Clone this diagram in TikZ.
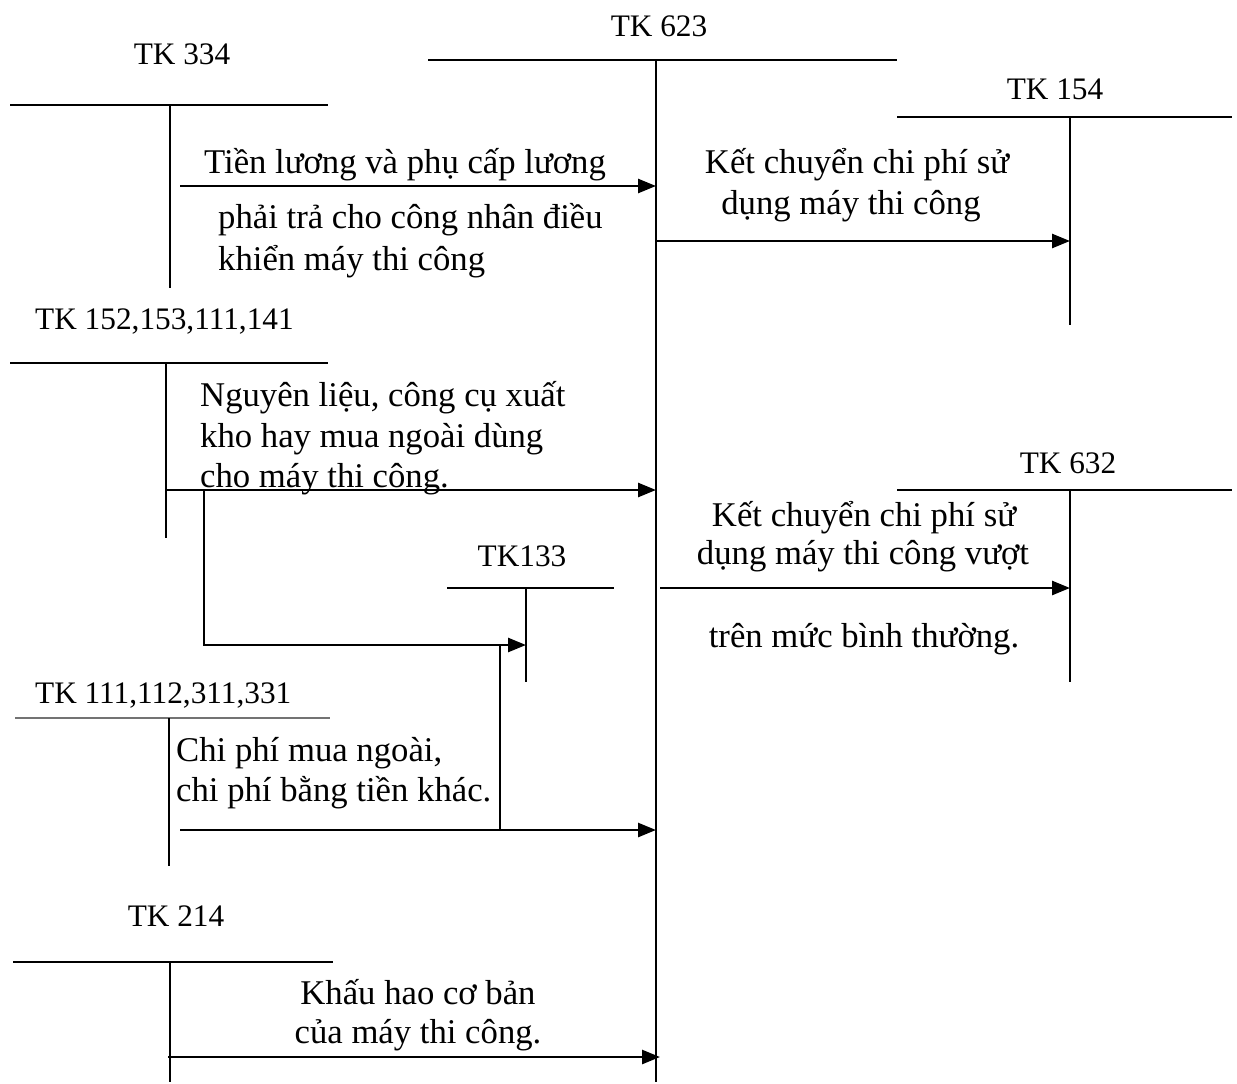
\documentclass[tikz,border=0pt]{standalone}
\usepackage{fontspec}
\setmainfont{Liberation Serif}
\usetikzlibrary{arrows.meta}
\begin{document}
\begin{tikzpicture}[x=1pt,y=-1pt,
  tline/.style={line width=2.4pt},
  flow/.style={line width=2.6pt,-{Triangle[length=18pt,width=14pt]}},
  plain/.style={line width=2.4pt},
  acct/.style={font=\fontsize{31.3}{37}\selectfont,inner sep=0pt,anchor=base},
  txt/.style={font=\fontsize{34.7}{41}\selectfont,inner sep=0pt,anchor=base},
  txtl/.style={txt,anchor=base west}]
\useasboundingbox (0,0) rectangle (1237,1084);
% ---------- T accounts ----------
% TK 623
\node[acct] (l623) at (659,36) {TK 623};
\coordinate (a623L) at (428,60); \coordinate (a623R) at (897,60);
\coordinate (a623T) at (656,60); \coordinate (a623B) at (656,1082);
\draw[tline] (a623L) -- (a623R);
\draw[tline] (a623T) -- (a623B);
% TK 334
\node[acct] (l334) at (182,64) {TK 334};
\coordinate (a334L) at (10,105); \coordinate (a334R) at (328,105);
\coordinate (a334T) at (170,105); \coordinate (a334B) at (170,288);
\draw[tline] (a334L) -- (a334R);
\draw[tline] (a334T) -- (a334B);
% TK 154
\node[acct] (l154) at (1055,99) {TK 154};
\coordinate (a154L) at (897,117); \coordinate (a154R) at (1232,117);
\coordinate (a154T) at (1070,117); \coordinate (a154B) at (1070,325);
\draw[tline] (a154L) -- (a154R);
\draw[tline] (a154T) -- (a154B);
% TK 152,153,111,141
\node[acct,anchor=base west] (l152) at (35,329) {TK 152,153,111,141};
\coordinate (a152L) at (10,363); \coordinate (a152R) at (328,363);
\coordinate (a152T) at (166,363); \coordinate (a152B) at (166,538);
\draw[tline] (a152L) -- (a152R);
\draw[tline] (a152T) -- (a152B);
% TK 632
\node[acct] (l632) at (1068,473) {TK 632};
\coordinate (a632L) at (897,490); \coordinate (a632R) at (1232,490);
\coordinate (a632T) at (1070,490); \coordinate (a632B) at (1070,682);
\draw[tline] (a632L) -- (a632R);
\draw[tline] (a632T) -- (a632B);
% TK133
\node[acct] (l133) at (522,566) {TK133};
\coordinate (a133L) at (447,588); \coordinate (a133R) at (614,588);
\coordinate (a133T) at (526,588); \coordinate (a133B) at (526,682);
\draw[tline] (a133L) -- (a133R);
\draw[tline] (a133T) -- (a133B);
% TK 111,112,311,331
\node[acct,anchor=base west] (l111) at (35,703) {TK 111,112,311,331};
\coordinate (a111L) at (15,718); \coordinate (a111R) at (330,718);
\coordinate (a111T) at (169,718); \coordinate (a111B) at (169,866);
\draw[line width=1.5pt,black!55] (a111L) -- (a111R);
\draw[tline] (a111T) -- (a111B);
% TK 214
\node[acct] (l214) at (176,926) {TK 214};
\coordinate (a214L) at (13,962); \coordinate (a214R) at (333,962);
\coordinate (a214T) at (170,962); \coordinate (a214B) at (170,1082);
\draw[tline] (a214L) -- (a214R);
\draw[tline] (a214T) -- (a214B);
% ---------- flows ----------
% 334 -> 623
\coordinate (f1s) at (180,186); \coordinate (f1e) at (656,186);
\draw[flow] (f1s) -- (f1e);
\node[txt] (t1a) at (405,173) {Tiền lương và phụ cấp lương};
\node[txtl] (t1b) at (218,228) {phải trả cho công nhân điều};
\node[txtl] (t1c) at (218,270) {khiển máy thi công};
% 623 -> 154
\coordinate (f2s) at (656,241); \coordinate (f2e) at (1070,241);
\draw[flow] (f2s) -- (f2e);
\node[txt] (t2a) at (857,173) {Kết chuyển chi phí sử};
\node[txt] (t2b) at (851,214) {dụng máy thi công};
% 152 -> 623
\coordinate (f3s) at (166,490); \coordinate (f3e) at (656,490);
\draw[flow] (f3s) -- (f3e);
\node[txtl] (t3a) at (200,406) {Nguyên liệu, công cụ xuất};
\node[txtl] (t3b) at (200,447) {kho hay mua ngoài dùng};
\node[txtl] (t3c) at (200,487) {cho máy thi công.};
% 152 -> 133
\coordinate (f4s) at (204,490); \coordinate (f4m) at (204,645); \coordinate (f4e) at (526,645);
\draw[flow] (f4s) -- (f4m) -- (f4e);
% 623 -> 632
\coordinate (f5s) at (660,588); \coordinate (f5e) at (1070,588);
\draw[flow] (f5s) -- (f5e);
\node[txt] (t5a) at (864,526) {Kết chuyển chi phí sử};
\node[txt] (t5b) at (863,564) {dụng máy thi công vượt};
\node[txt] (t5c) at (864,647) {trên mức bình thường.};
% 111 -> 623
\coordinate (f6s) at (180,830); \coordinate (f6e) at (656,830);
\draw[flow] (f6s) -- (f6e);
\coordinate (f6b) at (500,830); \coordinate (f6t) at (500,645);
\draw[plain] (f6b) -- (f6t);
\node[txtl] (t6a) at (176,761) {Chi phí mua ngoài,};
\node[txtl] (t6b) at (176,801) {chi phí bằng tiền khác.};
% 214 -> 623
\coordinate (f7s) at (168,1057); \coordinate (f7e) at (660,1057);
\draw[flow] (f7s) -- (f7e);
\node[txt] (t7a) at (418,1004) {Khấu hao cơ bản};
\node[txt] (t7b) at (418,1043) {của máy thi công.};
\end{tikzpicture}
\end{document}
